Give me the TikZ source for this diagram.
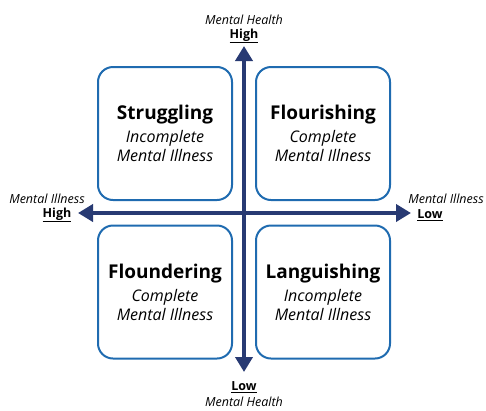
\documentclass[tikz,border=0pt]{standalone}
\usepackage{fontspec}
\setmainfont{Open Sans}
\usetikzlibrary{arrows.meta}
\definecolor{axisblue}{HTML}{283A73}
\definecolor{boxblue}{HTML}{1F6BB0}
\tikzstyle{quad}=[draw=boxblue, line width=2pt, rounded corners=15pt,
    minimum width=134pt, minimum height=133pt, align=center]
\tikzstyle{axis}=[draw=axisblue, line width=4pt,
    {Triangle[width=17pt,length=15pt]}-{Triangle[width=17pt,length=15pt]}]
\tikzstyle{lbl}=[inner sep=0pt, font=\fontsize{12.5}{14}\selectfont\itshape]
\tikzstyle{lvl}=[inner sep=0pt, font=\fontsize{12.5}{14}\selectfont\bfseries]
\newcommand{\qname}{\fontsize{19}{22}\selectfont\bfseries}
\newcommand{\qsub}{\fontsize{16}{19}\selectfont\itshape}

\begin{document}
\begin{tikzpicture}[x=1pt, y=-1pt]
  \useasboundingbox (0,0) rectangle (486,410);
  % axes
  \coordinate (top) at (244,46);
  \coordinate (bot) at (244,372);
  \coordinate (lft) at (78,213);
  \coordinate (rgt) at (411,213);
  \draw[axis] (bot) -- (top);
  \draw[axis] (lft) -- (rgt);

  % quadrants
  \node[quad] at (165,133.5) (strug) {{\qname Struggling}\\[5pt]{\qsub Incomplete}\\[2pt]{\qsub Mental Illness}};
  \node[quad] at (323,133.5) (flour) {{\qname Flourishing}\\[5pt]{\qsub Complete}\\[2pt]{\qsub Mental Illness}};
  \node[quad] at (165,292) (flound) {{\qname Floundering}\\[5pt]{\qsub Complete}\\[2pt]{\qsub Mental Illness}};
  \node[quad] at (323,292) (lang) {{\qname Languishing}\\[5pt]{\qsub Incomplete}\\[2pt]{\qsub Mental Illness}};

  % axis labels
  \node[lbl] at (244,20) (mhtop) {Mental Health};
  \node[lvl] at (244,36) (mhhigh) {\underline{High}};
  \node[lvl] at (244,387) (mhlow) {\underline{Low}};
  \node[lbl] at (244,402) (mhbot) {Mental Health};
  \node[lbl] at (47,199) (miltop) {Mental Illness};
  \node[lvl] at (57,215) (milhigh) {\underline{High}};
  \node[lbl] at (446,199) (mirtop) {Mental Illness};
  \node[lvl] at (430,215) (mirlow) {\underline{Low}};
\end{tikzpicture}
\end{document}
